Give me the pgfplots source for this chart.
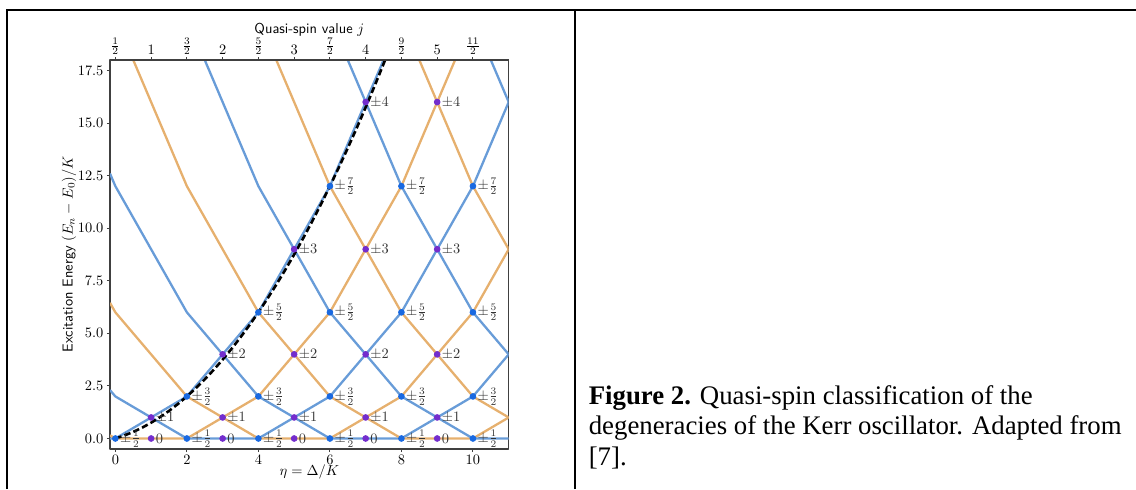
\documentclass[border=0pt]{standalone}
\usepackage{pgfplots}
\pgfplotsset{compat=1.18}
\usepackage{fontspec}
\newfontfamily\timesfont{Liberation Serif}
\definecolor{lblue}{RGB}{104,156,216}
\definecolor{lorange}{RGB}{230,176,110}
\definecolor{mblue}{RGB}{25,105,225}
\definecolor{mpurple}{RGB}{115,45,205}
\newcommand\scl[1]{\scalebox{0.72}{#1}}
\begin{document}
\begin{tikzpicture}
\useasboundingbox (0,0) rectangle (568pt,244.5pt);
\draw[line width=1.2pt] (3.5pt,0) -- (3.5pt,239.5pt) -- (568pt,239.5pt);
\draw[line width=1.2pt] (287.5pt,0) -- (287.5pt,239.5pt);
\begin{axis}[
  at={(55pt,20pt)}, anchor=south west,
  scale only axis, width=199.35pt, height=194.5pt,
  xmin=-0.15, xmax=11, ymin=-0.5, ymax=18,
  xtick={0,2,...,10}, ytick={0,2.5,...,17.5},
  xticklabel={\scl{$\pgfmathprintnumber{\tick}$}},
  yticklabel={\scl{$\pgfmathprintnumber[fixed,fixed zerofill,precision=1]{\tick}$}},
  xticklabel style={anchor=north, inner sep=1.6pt},
  yticklabel style={anchor=east, inner sep=1.6pt},
  tick align=outside, tick pos=left,
  major tick length=1.5pt,
  tick style={black!75, line width=0.5pt},
  axis line style={black!75, line width=0.7pt},
  xlabel={\scl{$\eta=\Delta/K$}},
  ylabel={\scl{\sffamily Excitation Energy $(E_n-E_0)/K$}},
  every axis x label/.style={at={(axis description cs:0.5,0)}, anchor=center, yshift=-11.5pt, inner sep=0pt},
  every axis y label/.style={at={(axis description cs:-0.103,0.5)}, rotate=90, anchor=center, inner sep=0pt},
  line join=round,
]
% n = 0 ... 10 (even: blue, odd: orange)
\addplot[lblue, line width=1.15pt] coordinates {(-0.15,0)(0,0)(2,2)(4,6)(6,12)(8,20)(10,30)(11,36)};
\addplot[lorange, line width=1.15pt] coordinates {(-0.15,0.15)(0,0)(2,0)(4,2)(6,6)(8,12)(10,20)(11,25)};
\addplot[lblue, line width=1.15pt] coordinates {(-0.15,2.3)(0,2)(2,0)(4,0)(6,2)(8,6)(10,12)(11,16)};
\addplot[lorange, line width=1.15pt] coordinates {(-0.15,6.45)(0,6)(2,2)(4,0)(6,0)(8,2)(10,6)(11,9)};
\addplot[lblue, line width=1.15pt] coordinates {(-0.15,12.6)(0,12)(2,6)(4,2)(6,0)(8,0)(10,2)(11,4)};
\addplot[lorange, line width=1.15pt] coordinates {(-0.15,20.75)(0,20)(2,12)(4,6)(6,2)(8,0)(10,0)(11,1)};
\addplot[lblue, line width=1.15pt] coordinates {(0,30)(2,20)(4,12)(6,6)(8,2)(10,0)(11,0)};
\addplot[lorange, line width=1.15pt] coordinates {(0,42)(2,30)(4,20)(6,12)(8,6)(10,2)(11,1)};
\addplot[lblue, line width=1.15pt] coordinates {(2,42)(4,30)(6,20)(8,12)(10,6)(11,4)};
\addplot[lorange, line width=1.15pt] coordinates {(4,42)(6,30)(8,20)(10,12)(11,9)};
\addplot[lblue, line width=1.15pt] coordinates {(6,42)(8,30)(10,20)(11,16)};
% dashed boundary
\addplot[black, line width=1.3pt, dash pattern=on 3.2pt off 1.6pt] coordinates {
(0,0)(0.25,0.140625)(0.5,0.3125)(0.75,0.515625)(1,0.75)(1.25,1.015625)(1.5,1.3125)(1.75,1.640625)
(2,2)(2.25,2.390625)(2.5,2.8125)(2.75,3.265625)(3,3.75)(3.25,4.265625)(3.5,4.8125)(3.75,5.390625)
(4,6)(4.25,6.640625)(4.5,7.3125)(4.75,8.015625)(5,8.75)(5.25,9.515625)(5.5,10.3125)(5.75,11.140625)
(6,12)(6.25,12.890625)(6.5,13.8125)(6.75,14.765625)(7,15.75)(7.25,16.765625)(7.5,17.8125)(7.75,18.890625)};
% degeneracy markers with labels
\addplot[only marks, mark=*, mark size=1.45pt, mark options={draw=mblue, fill=mblue},
  point meta=explicit symbolic, nodes near coords={\scl{\pgfplotspointmeta}},
  every node near coord/.style={anchor=west, inner sep=0pt, xshift=2.2pt, black!80}]
  coordinates {
  (0,0)[$\pm\frac{1}{2}$]
  (2,0)[$\pm\frac{1}{2}$] (2,2)[$\pm\frac{3}{2}$]
  (4,0)[$\pm\frac{1}{2}$] (4,2)[$\pm\frac{3}{2}$] (4,6)[$\pm\frac{5}{2}$]
  (6,0)[$\pm\frac{1}{2}$] (6,2)[$\pm\frac{3}{2}$] (6,6)[$\pm\frac{5}{2}$] (6,12)[$\pm\frac{7}{2}$]
  (8,0)[$\pm\frac{1}{2}$] (8,2)[$\pm\frac{3}{2}$] (8,6)[$\pm\frac{5}{2}$] (8,12)[$\pm\frac{7}{2}$]
  (10,0)[$\pm\frac{1}{2}$] (10,2)[$\pm\frac{3}{2}$] (10,6)[$\pm\frac{5}{2}$] (10,12)[$\pm\frac{7}{2}$]
  };
\addplot[only marks, mark=*, mark size=1.45pt, mark options={draw=mpurple, fill=mpurple},
  point meta=explicit symbolic, nodes near coords={\scl{\pgfplotspointmeta}},
  every node near coord/.style={anchor=west, inner sep=0pt, xshift=2.2pt, black!80}]
  coordinates {
  (1,0)[$0$] (1,1)[$\pm1$]
  (3,0)[$0$] (3,1)[$\pm1$] (3,4)[$\pm2$]
  (5,0)[$0$] (5,1)[$\pm1$] (5,4)[$\pm2$] (5,9)[$\pm3$]
  (7,0)[$0$] (7,1)[$\pm1$] (7,4)[$\pm2$] (7,9)[$\pm3$] (7,16)[$\pm4$]
  (9,0)[$0$] (9,1)[$\pm1$] (9,4)[$\pm2$] (9,9)[$\pm3$] (9,16)[$\pm4$]
  };
\end{axis}
\begin{axis}[
  at={(55pt,20pt)}, anchor=south west,
  scale only axis, width=199.35pt, height=194.5pt,
  xmin=-0.15, xmax=11, ymin=-0.5, ymax=18,
  axis x line*=top, hide y axis,
  xtick={0,1,...,10},
  xticklabels={\scl{$\frac{1}{2}$},\scl{$1$},\scl{$\frac{3}{2}$},\scl{$2$},\scl{$\frac{5}{2}$},\scl{$3$},\scl{$\frac{7}{2}$},\scl{$4$},\scl{$\frac{9}{2}$},\scl{$5$},\scl{$\frac{11}{2}$}},
  xticklabel style={anchor=south, inner sep=0.9pt},
  tick align=outside, major tick length=1.5pt,
  tick style={black!75, line width=0.5pt},
  axis line style={black!75, line width=0.7pt},
  xlabel={\scl{\sffamily Quasi-spin value $j$}},
  every axis x label/.style={at={(axis description cs:0.5,1.077)}, anchor=center, inner sep=0pt},
]
\addplot[draw=none] coordinates {(0,0)};
\end{axis}
\node[anchor=base west, inner sep=0pt, font=\timesfont\fontsize{13.4}{15}\selectfont] at (294.2pt,42.5pt) {\textbf{Figure 2.} Quasi-spin classification of the};
\node[anchor=base west, inner sep=0pt, font=\timesfont\fontsize{13.4}{15}\selectfont] at (294.2pt,27.25pt) {degeneracies of the Kerr oscillator. Adapted from};
\node[anchor=base west, inner sep=0pt, font=\timesfont\fontsize{13.4}{15}\selectfont] at (294.2pt,12pt) {[7].};
\end{tikzpicture}
\end{document}
